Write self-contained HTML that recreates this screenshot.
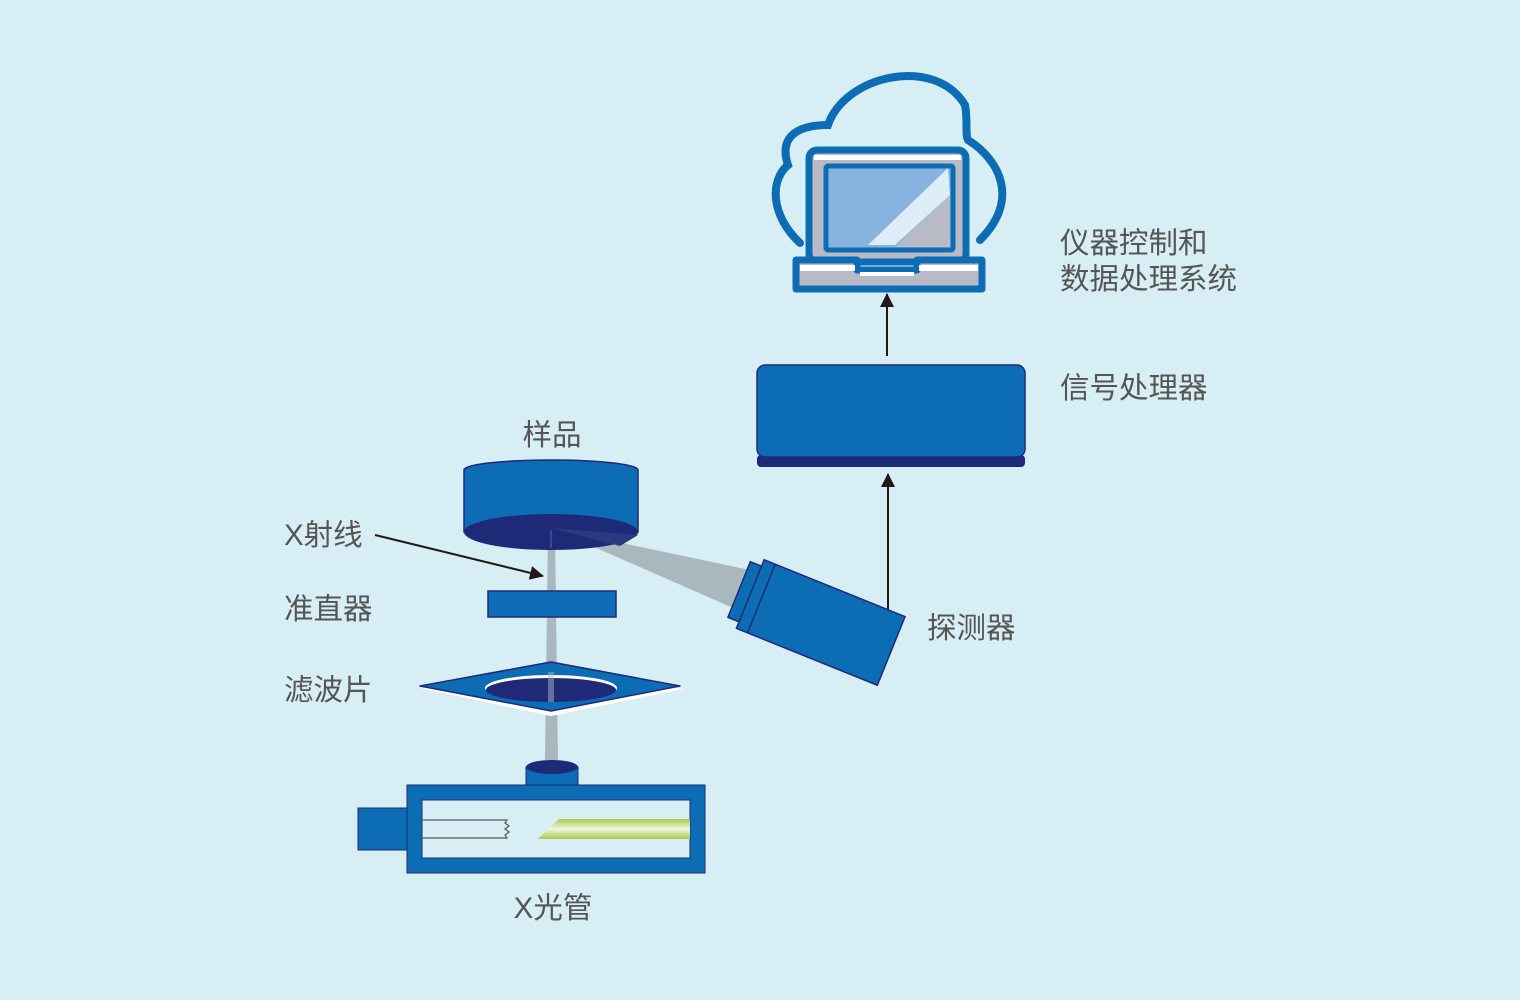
<!DOCTYPE html>
<html><head><meta charset="utf-8"><style>
html,body{margin:0;padding:0;background:#d8eef5;}
svg{display:block}
text{font-family:"Liberation Sans","Noto Sans CJK SC",sans-serif;font-size:29.5px;fill:#555;}
</style></head><body>
<svg width="1520" height="1000" viewBox="0 0 1520 1000">
<rect width="1520" height="1000" fill="#d8eef5"/>
<defs>
<marker id="ah" markerWidth="14" markerHeight="14" refX="13" refY="7" orient="auto" markerUnits="userSpaceOnUse" viewBox="0 0 14 14"><path d="M0,0 L14,7 L0,14 z" fill="#231815"/></marker>
<linearGradient id="gr" x1="0" y1="0" x2="0" y2="1"><stop offset="0" stop-color="#a8c84a"/><stop offset="0.5" stop-color="#eef6d8"/><stop offset="1" stop-color="#a8c84a"/></linearGradient>
</defs>
<!-- cloud -->
<path d="M800,243 C770,215 770,180 788,165 C778,135 800,125 828,125 C845,75 935,55 965,105 C968,120 965,135 968,140 C1000,160 1020,200 980,240" fill="none" stroke="#0c6db5" stroke-width="8" stroke-linecap="round"/>
<!-- laptop -->
<rect x="809" y="150" width="157" height="112" rx="8" fill="#b8bbc6" stroke="#0c6db5" stroke-width="7"/>
<rect x="814" y="155" width="147" height="5" fill="#fff"/>
<rect x="826" y="166" width="127" height="84" rx="2" fill="#88b3df" stroke="#0c6db5" stroke-width="5"/>
<polygon points="948,168 950,195 895,245 868,245" fill="#ddeef8"/>
<polygon points="950,195 950,247 895,247" fill="#b8bbc6"/>
<path d="M796,260 H857 V270 H917 V260 H982 V289 H796 Z" fill="#b8bbc6" stroke="#0c6db5" stroke-width="7" stroke-linejoin="round"/>
<rect x="800" y="265" width="55" height="6" fill="#fff"/><rect x="919" y="265" width="59" height="6" fill="#fff"/><rect x="860" y="272" width="54" height="4" fill="#fff"/>
<!-- arrows -->
<line x1="887" y1="356" x2="887" y2="294" stroke="#231815" stroke-width="2" marker-end="url(#ah)"/>
<line x1="888" y1="612" x2="888" y2="474" stroke="#231815" stroke-width="2" marker-end="url(#ah)"/>
<!-- signal processor -->
<rect x="757" y="455" width="268" height="12" rx="4" fill="#1e2a78"/>
<rect x="757" y="365" width="268" height="92" rx="8" fill="#0c6db5" stroke="#1e2a78" stroke-width="1.5"/>
<!-- beam -->
<polygon points="548,530 555,530 558,760 545,760" fill="#a9b8bf"/>
<polygon points="551,528 750,570 733,608" fill="#a9b8bf"/>
<!-- sample -->
<path d="M464,470 A87,10 0 0 1 638,470 V532 H464 Z" fill="#0c6db5" stroke="#1e2a78" stroke-width="1.5"/>
<ellipse cx="551" cy="532" rx="87" ry="18" fill="#1e2a78"/>
<polygon points="551,528 638,535 620,546" fill="#2b3a80"/>
<line x1="551" y1="530" x2="551" y2="548" stroke="#3a4a90" stroke-width="2"/>
<!-- collimator -->
<rect x="488" y="591" width="128" height="26" fill="#0c6db5" stroke="#1e2a78" stroke-width="1.5"/>
<!-- filter -->
<polygon points="420,688 551,662 683,689 551,716" fill="#fff"/>
<polygon points="420,686 551,662 680,686 551,711" fill="#0c6db5" stroke="#1e2a78" stroke-width="1.5" stroke-linejoin="round"/>
<ellipse cx="551" cy="688" rx="66" ry="13" fill="#fff"/>
<ellipse cx="551" cy="690" rx="65" ry="12" fill="#1e2a78"/>
<rect x="548" y="672" width="6" height="30" fill="#a9b8bf" opacity="0.5"/>
<!-- detector -->
<g transform="translate(817,621) rotate(22)">
<rect x="-84" y="-30" width="20" height="60" fill="#0c6db5" stroke="#1e2a78" stroke-width="1.5"/>
<rect x="-72" y="-37" width="152" height="74" fill="#0c6db5" stroke="#1e2a78" stroke-width="1.5"/>
<line x1="-60" y1="-37" x2="-60" y2="37" stroke="#1e2a78" stroke-width="1.5"/>
</g>
<!-- tube -->
<rect x="526" y="767" width="52" height="20" fill="#0c6db5" stroke="#1e2a78" stroke-width="1"/>
<ellipse cx="552" cy="767" rx="26" ry="7" fill="#1e2a78"/>
<rect x="358" y="808" width="50" height="42" fill="#0c6db5" stroke="#1e2a78" stroke-width="1"/>
<rect x="407" y="785" width="298" height="88" fill="#0c6db5" stroke="#1e2a78" stroke-width="1"/>
<rect x="422" y="800" width="268" height="58" fill="#d8eef5" stroke="#1e2a78" stroke-width="1"/>
<path d="M422,820 H507 L505,823 L509,826 L505,829 L509,832 L505,835 L507,838 H422" fill="none" stroke="#555" stroke-width="1.2"/>
<polygon points="538,839 559,819 690,819 690,839" fill="url(#gr)"/>
<!-- X-ray arrow -->
<line x1="375" y1="535" x2="543" y2="576" stroke="#231815" stroke-width="2" marker-end="url(#ah)"/>
<!-- labels -->
<text x="552" y="445" text-anchor="middle">样品</text>
<text x="284" y="545">X射线</text>
<text x="284" y="619">准直器</text>
<text x="284" y="700">滤波片</text>
<text x="553" y="918" text-anchor="middle">X光管</text>
<text x="927" y="638">探测器</text>
<text x="1060" y="398">信号处理器</text>
<text x="1060" y="253">仪器控制和</text>
<text x="1060" y="289">数据处理系统</text>
</svg>
</body></html>
